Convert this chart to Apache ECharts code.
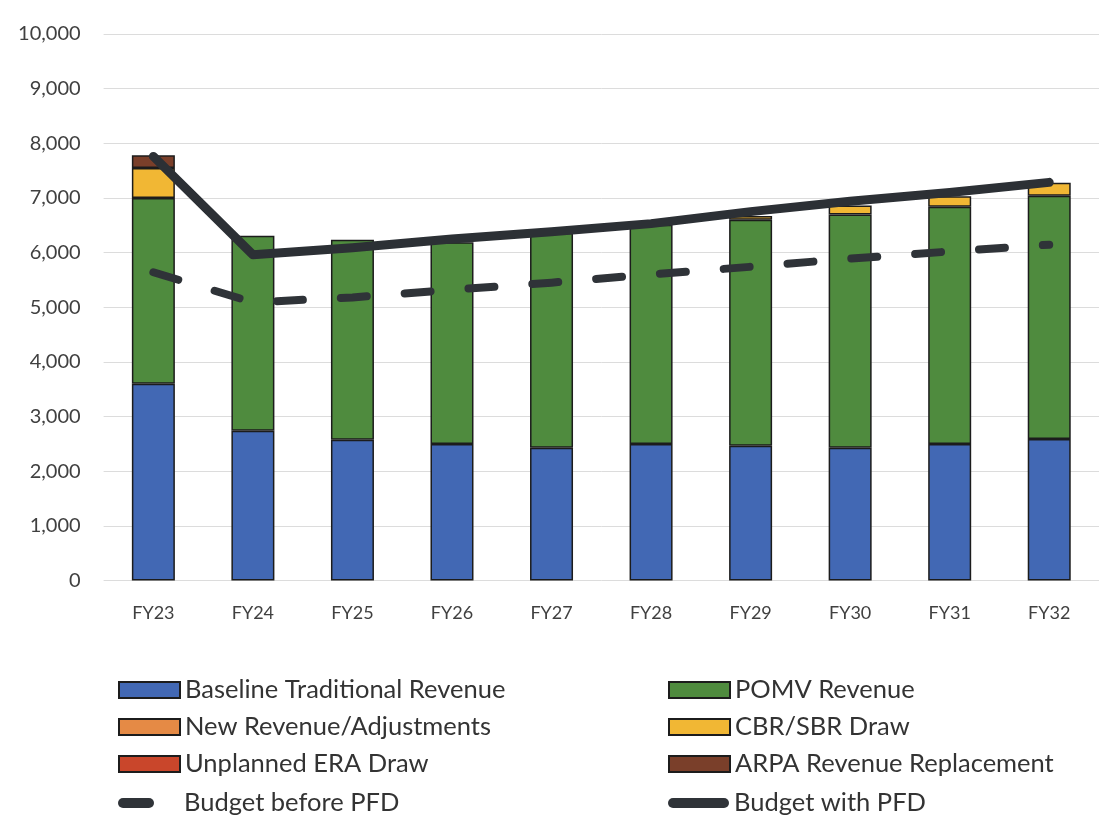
<!DOCTYPE html>
<html><head><meta charset="utf-8">
<script src="https://cdn.jsdelivr.net/npm/echarts@6/dist/echarts.min.js"></script>
<style>html,body{margin:0;padding:0;background:#fff}#c{width:1099px;height:816px}</style>
</head><body><div id="c"></div>
<script>
const categories = ['FY23','FY24','FY25','FY26','FY27','FY28','FY29','FY30','FY31','FY32'];
const baselineTraditional = [3600,2740,2575,2500,2430,2500,2465,2430,2500,2590];
const pomvRevenue = [3400,3570,3660,3690,3935,4010,4135,4265,4340,4450];
const newRevenueAdjustments = [0,0,0,0,0,0,0,0,0,0];
const cbrSbrDraw = [550,0,0,0,0,0,70,165,190,240];
const unplannedEraDraw = [0,0,0,0,0,0,0,0,0,0];
const arpaReplacement = [230,0,0,0,0,0,0,0,0,0];
const budgetBeforePfd = [5640,5090,5180,5320,5450,5600,5740,5890,6020,6145];
const budgetWithPfd = [7760,5960,6090,6250,6380,6530,6750,6940,7100,7285];
const yMin = 0, yMax = 10000, yStep = 1000;

const FONT = 'Lato';
const TXT = '#404040';
const border = {borderColor:'#1c1c1c', borderWidth:1.5};
function bar(name, data, color){
  return {name, type:'bar', stack:'rev', data:data.map(v => v === 0 ? null : v), barWidth:43,
    itemStyle:Object.assign({color}, border), emphasis:{disabled:true}, z:2};
}
const anchor = 'M0,0 L0,0 M61,16 L61,16 ';
const dashIcon = 'path://' + anchor + 'M5,3 L31,3 A5,5 0 0 1 31,13 L5,13 A5,5 0 0 1 5,3 Z';
const solidIcon = 'path://' + anchor + 'M5,3 L56,3 A5,5 0 0 1 56,13 L5,13 A5,5 0 0 1 5,3 Z';
function leg(name, left, top, extra){
  const item = Object.assign({name}, extra || {});
  return {orient:'horizontal', left, top, itemWidth:61, itemHeight:16, padding:0,
    icon:'rect', symbolKeepAspect:true, selectedMode:false,
    textStyle:{fontFamily:FONT, fontSize:25.5, color:'#333', lineHeight:16},
    data:[item]};
}
const lineIconStyle = {itemStyle:{borderWidth:0, color:'#2f3338'}};
const rowTops = [677, 714, 751, 790];
const chart = echarts.init(document.getElementById('c'), null, {renderer:'canvas'});
chart.setOption({
  backgroundColor:'#ffffff',
  animation:false,
  grid:{left:103.6, right:-22.6, top:34, bottom:235.5, containLabel:false},
  xAxis:{type:'category', data:categories, boundaryGap:true,
    axisLine:{show:false}, axisTick:{show:false},
    axisLabel:{fontFamily:FONT, fontSize:18, color:TXT, margin:24}},
  yAxis:{type:'value', min:yMin, max:yMax, interval:yStep,
    axisLine:{show:false}, axisTick:{show:false},
    splitLine:{lineStyle:{color:'#dcdcdc', width:1}},
    axisLabel:{fontFamily:FONT, fontSize:20, color:TXT, margin:23,
      formatter:v=>v.toLocaleString('en-US')}},
  legend:[
    leg('Baseline Traditional Revenue', 118, rowTops[0]),
    leg('New Revenue/Adjustments', 118, rowTops[1]),
    leg('Unplanned ERA Draw', 118, rowTops[2]),
    leg('Budget before PFD', 118, rowTops[3], Object.assign({icon:dashIcon}, lineIconStyle)),
    leg('POMV Revenue', 668, rowTops[0]),
    leg('CBR/SBR Draw', 668, rowTops[1]),
    leg('ARPA Revenue Replacement', 668, rowTops[2]),
    leg('Budget with PFD', 668, rowTops[3], Object.assign({icon:solidIcon}, lineIconStyle))
  ],
  series:[
    bar('Baseline Traditional Revenue', baselineTraditional, '#4268b4'),
    bar('POMV Revenue', pomvRevenue, '#4f8b3e'),
    bar('New Revenue/Adjustments', newRevenueAdjustments, '#e58a45'),
    bar('CBR/SBR Draw', cbrSbrDraw, '#f1b734'),
    bar('Unplanned ERA Draw', unplannedEraDraw, '#c9462b'),
    bar('ARPA Revenue Replacement', arpaReplacement, '#7a3f2a'),
    {name:'Budget before PFD', type:'line', data:budgetBeforePfd, symbol:'none', z:5,
      itemStyle:{color:'#2f3338'},
      lineStyle:{color:'#2f3338', width:8, type:[26,38], cap:'round', join:'round'}},
    {name:'Budget with PFD', type:'line', data:budgetWithPfd, symbol:'none', z:6,
      itemStyle:{color:'#2c3035'},
      lineStyle:{color:'#2c3035', width:9, cap:'round', join:'round'}}
  ]
});
</script></body></html>
